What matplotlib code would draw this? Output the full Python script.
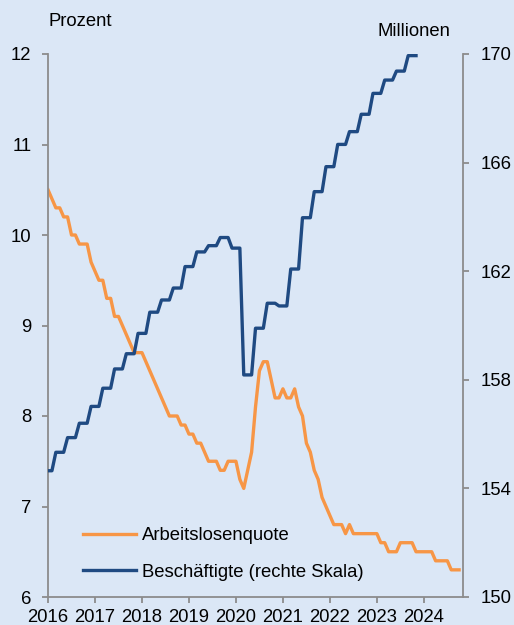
import numpy as np
import matplotlib.pyplot as plt

plt.rcParams['font.family'] = ['Liberation Sans', 'DejaVu Sans']

# Euroraum: Arbeitslosenquote (Prozent, monatlich ab Jan 2016)
arbeitslosenquote = [
    10.5, 10.4, 10.3, 10.3, 10.2, 10.2, 10.0, 10.0, 9.9, 9.9, 9.9, 9.7,
    9.6, 9.5, 9.5, 9.3, 9.3, 9.1, 9.1, 9.0, 8.9, 8.8, 8.7, 8.7,
    8.7, 8.6, 8.5, 8.4, 8.3, 8.2, 8.1, 8.0, 8.0, 8.0, 7.9, 7.9,
    7.8, 7.8, 7.7, 7.7, 7.6, 7.5, 7.5, 7.5, 7.4, 7.4, 7.5, 7.5,
    7.5, 7.3, 7.2, 7.4, 7.6, 8.1, 8.5, 8.6, 8.6, 8.4, 8.2, 8.2,
    8.3, 8.2, 8.2, 8.3, 8.1, 8.0, 7.7, 7.6, 7.4, 7.3, 7.1, 7.0,
    6.9, 6.8, 6.8, 6.8, 6.7, 6.8, 6.7, 6.7, 6.7, 6.7, 6.7, 6.7,
    6.7, 6.6, 6.6, 6.5, 6.5, 6.5, 6.6, 6.6, 6.6, 6.6, 6.5, 6.5,
    6.5, 6.5, 6.5, 6.4, 6.4, 6.4, 6.4, 6.3, 6.3, 6.3,
]

# Beschäftigte (Millionen, Quartalswerte Q1 2016 - Q4 2023)
beschaeftigte_q = [
    154.65, 155.33, 155.87, 156.40, 157.02, 157.69, 158.40, 158.96,
    159.71, 160.49, 160.94, 161.38, 162.17, 162.71, 162.94, 163.24,
    162.85, 158.18, 159.90, 160.82, 160.72, 162.08, 163.97, 164.93,
    165.85, 166.67, 167.14, 167.78, 168.55, 169.04, 169.37, 169.94,
]

years = ['2016', '2017', '2018', '2019', '2020', '2021', '2022', '2023', '2024']

# Quartalswerte auf Monatsraster halten
beschaeftigte = np.repeat(beschaeftigte_q, [2] + [3] * (len(beschaeftigte_q) - 1))
months_alq = np.arange(len(arbeitslosenquote))
months_b = np.arange(len(beschaeftigte))

bg = '#dbe7f6'
orange = '#f79646'
blue = '#1f4a82'
grey = '#8c8c8c'
fs = 13.3

fig = plt.figure(figsize=(5.14, 6.25), dpi=100, facecolor=bg)
ax = fig.add_axes([0.0934, 0.0448, 0.8074, 0.8688])
ax.set_facecolor(bg)
ax2 = ax.twinx()

l1, = ax.plot(months_alq, arbeitslosenquote, color=orange, lw=2.4,
              solid_joinstyle='round', label='Arbeitslosenquote')
l2, = ax2.plot(months_b, beschaeftigte, color=blue, lw=2.4,
               solid_joinstyle='round', label='Beschäftigte (rechte Skala)')

ax.set_xlim(0, 106)
ax.set_ylim(6, 12)
ax2.set_ylim(150, 170)
ax.set_xticks(np.arange(len(years)) * 12)
ax.set_xticklabels(years)
ax.set_yticks(range(6, 13))
ax2.set_yticks(range(150, 171, 4))

for a in (ax, ax2):
    for s in a.spines.values():
        s.set_color(grey)
        s.set_linewidth(1.3)
    a.spines['top'].set_visible(False)
    a.tick_params(colors=grey, labelcolor='black', labelsize=fs,
                  length=4, width=1.3, direction='out')
ax.spines['right'].set_visible(False)
ax2.spines['left'].set_visible(False)
ax2.spines['bottom'].set_visible(False)
ax.tick_params(axis='y', pad=8)
ax.tick_params(axis='x', pad=5)
ax2.tick_params(axis='y', pad=9)

fig.text(48 / 514, 1 - 21 / 625, 'Prozent', ha='left', va='center', fontsize=fs)
fig.text(450 / 514, 1 - 32 / 625, 'Millionen', ha='right', va='center', fontsize=fs)

ax.legend(handles=[l1, l2], loc='center left', bbox_to_anchor=(0.084, 0.079),
          frameon=False, fontsize=fs, handlelength=2.9, handletextpad=0.3,
          labelspacing=1.05, borderpad=0, borderaxespad=0)

fig.savefig('out.png', dpi=100, facecolor=bg)
